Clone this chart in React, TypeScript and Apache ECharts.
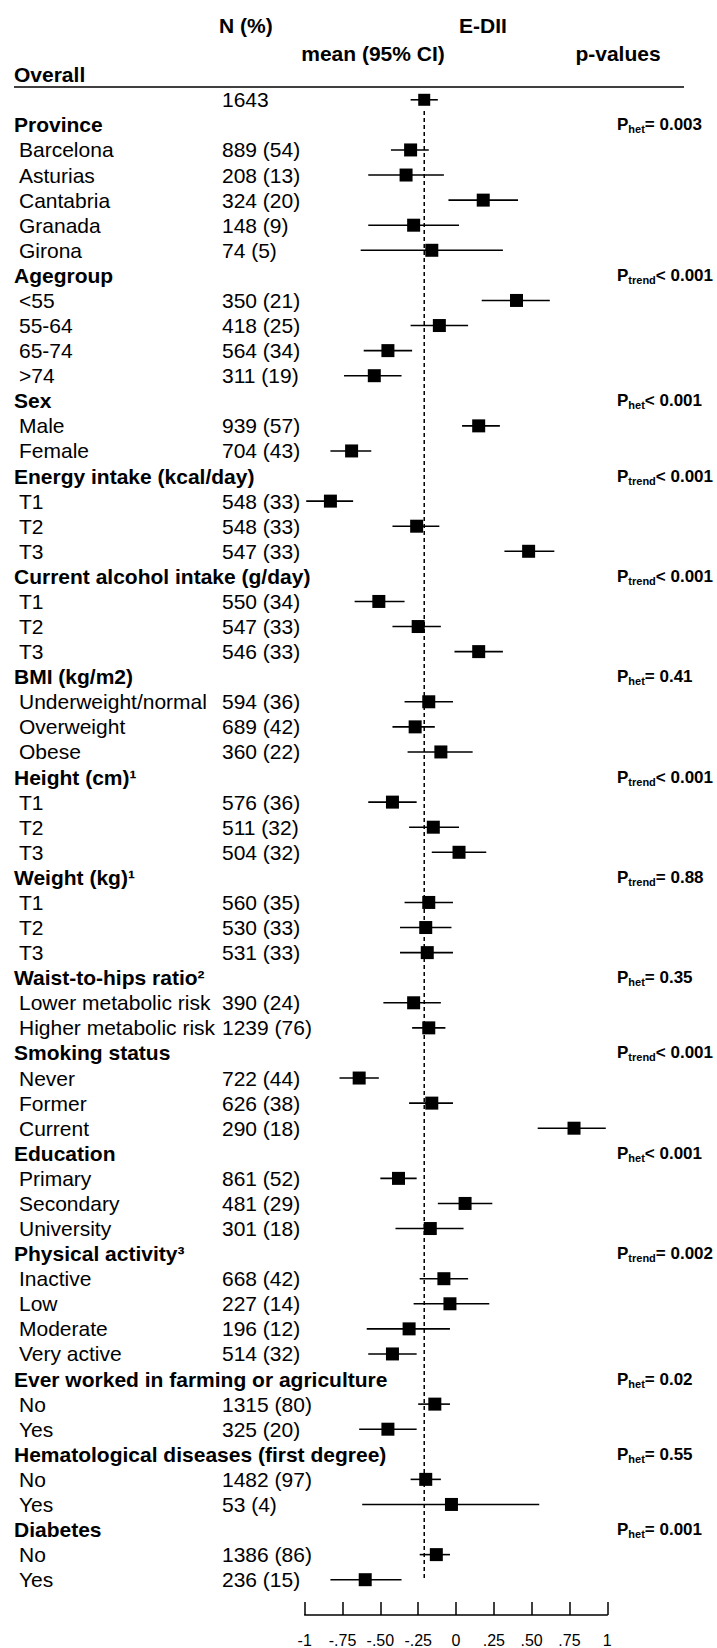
import React, { useEffect, useRef } from "react";
import * as echarts from "echarts";

const rowLabels: string[] = [
  "Overall", "", "Province", "Barcelona", "Asturias", "Cantabria", "Granada", "Girona",
  "Agegroup", "<55", "55-64", "65-74", ">74",
  "Sex", "Male", "Female",
  "Energy intake (kcal/day)", "T1", "T2", "T3",
  "Current alcohol intake (g/day)", "T1", "T2", "T3",
  "BMI (kg/m2)", "Underweight/normal", "Overweight", "Obese",
  "Height (cm)\u00b9", "T1", "T2", "T3",
  "Weight (kg)\u00b9", "T1", "T2", "T3",
  "Waist-to-hips ratio\u00b2", "Lower metabolic risk", "Higher metabolic risk",
  "Smoking status", "Never", "Former", "Current",
  "Education", "Primary", "Secondary", "University",
  "Physical activity\u00b3", "Inactive", "Low", "Moderate", "Very active",
  "Ever worked in farming or agriculture", "No", "Yes",
  "Hematological diseases (first degree)", "No", "Yes",
  "Diabetes", "No", "Yes",
];

const nValues: string[] = [
  "", "1643", "", "889 (54)", "208 (13)", "324 (20)", "148 (9)", "74 (5)",
  "", "350 (21)", "418 (25)", "564 (34)", "311 (19)",
  "", "939 (57)", "704 (43)",
  "", "548 (33)", "548 (33)", "547 (33)",
  "", "550 (34)", "547 (33)", "546 (33)",
  "", "594 (36)", "689 (42)", "360 (22)",
  "", "576 (36)", "511 (32)", "504 (32)",
  "", "560 (35)", "530 (33)", "531 (33)",
  "", "390 (24)", "1239 (76)",
  "", "722 (44)", "626 (38)", "290 (18)",
  "", "861 (52)", "481 (29)", "301 (18)",
  "", "668 (42)", "227 (14)", "196 (12)", "514 (32)",
  "", "1315 (80)", "325 (20)",
  "", "1482 (97)", "53 (4)",
  "", "1386 (86)", "236 (15)",
];

const means: (number | null)[] = [
  null, -0.21, null, -0.30, -0.33, 0.18, -0.28, -0.16,
  null, 0.40, -0.11, -0.45, -0.54,
  null, 0.15, -0.69,
  null, -0.83, -0.26, 0.48,
  null, -0.51, -0.25, 0.15,
  null, -0.18, -0.27, -0.10,
  null, -0.42, -0.15, 0.02,
  null, -0.18, -0.20, -0.19,
  null, -0.28, -0.18,
  null, -0.64, -0.16, 0.78,
  null, -0.38, 0.06, -0.17,
  null, -0.08, -0.04, -0.31, -0.42,
  null, -0.14, -0.45,
  null, -0.20, -0.03,
  null, -0.13, -0.60,
];

const lowerCI: (number | null)[] = [
  null, -0.30, null, -0.43, -0.58, -0.05, -0.58, -0.63,
  null, 0.17, -0.30, -0.61, -0.74,
  null, 0.04, -0.83,
  null, -0.99, -0.42, 0.32,
  null, -0.67, -0.42, -0.01,
  null, -0.34, -0.42, -0.32,
  null, -0.58, -0.31, -0.16,
  null, -0.34, -0.37, -0.37,
  null, -0.48, -0.29,
  null, -0.77, -0.31, 0.54,
  null, -0.50, -0.12, -0.40,
  null, -0.24, -0.28, -0.59, -0.58,
  null, -0.25, -0.64,
  null, -0.30, -0.62,
  null, -0.24, -0.83,
];

const upperCI: (number | null)[] = [
  null, -0.12, null, -0.18, -0.08, 0.41, 0.02, 0.31,
  null, 0.62, 0.08, -0.29, -0.36,
  null, 0.29, -0.56,
  null, -0.68, -0.11, 0.65,
  null, -0.34, -0.10, 0.31,
  null, -0.02, -0.14, 0.11,
  null, -0.26, 0.02, 0.20,
  null, -0.02, -0.03, -0.02,
  null, -0.10, -0.07,
  null, -0.51, -0.02, 0.99,
  null, -0.26, 0.24, 0.05,
  null, 0.08, 0.22, -0.04, -0.26,
  null, -0.04, -0.26,
  null, -0.10, 0.55,
  null, -0.04, -0.36,
];

const pSubs: string[] = [
  "", "", "het", "", "", "", "", "",
  "trend", "", "", "", "",
  "het", "", "",
  "trend", "", "", "",
  "trend", "", "", "",
  "het", "", "", "",
  "trend", "", "", "",
  "trend", "", "", "",
  "het", "", "",
  "trend", "", "", "",
  "het", "", "", "",
  "trend", "", "", "", "",
  "het", "", "",
  "het", "", "",
  "het", "", "",
];

const pValues: string[] = [
  "", "", "= 0.003", "", "", "", "", "",
  "< 0.001", "", "", "", "",
  "< 0.001", "", "",
  "< 0.001", "", "", "",
  "< 0.001", "", "", "",
  "= 0.41", "", "", "",
  "< 0.001", "", "", "",
  "= 0.88", "", "", "",
  "= 0.35", "", "",
  "< 0.001", "", "", "",
  "< 0.001", "", "", "",
  "= 0.002", "", "", "", "",
  "= 0.02", "", "",
  "= 0.55", "", "",
  "= 0.001", "", "",
];

const tickLabels: string[] = ["-1", "-.75", "-.50", "-.25", "0", ".25", ".50", ".75", "1"];
const overallMean = -0.21;

const FONT = "'Liberation Sans', Arial, Helvetica, sans-serif";

export default function App() {
  const ref = useRef<HTMLDivElement>(null);

  useEffect(() => {
    if (!ref.current) return;
    const chart = echarts.init(ref.current, null, { renderer: "svg" });
    const rows = rowLabels.map((_, i) => i);
    const withData = rows.filter((i) => means[i] !== null);
    const ciData = withData.map((i) => [lowerCI[i], upperCI[i], i]);
    const pointData = withData.map((i) => ({
      value: [means[i], i],
      symbolSize: i === 1 ? 12 : 13,
    }));

    const txt = (size: number, bold: boolean) => ({
      fill: "#000",
      fontSize: size,
      fontWeight: bold ? "bold" : "normal",
      fontFamily: FONT,
    });

    chart.setOption({
      animation: false,
      grid: { left: 304.7, right: 109.7, top: 74.7, bottom: 67.3 },
      xAxis: {
        type: "value",
        min: -1,
        max: 1,
        interval: 0.25,
        position: "bottom",
        offset: 35.3,
        axisLine: { show: true, onZero: false, lineStyle: { color: "#000", width: 1.5 } },
        axisTick: { show: true, inside: true, length: 13, lineStyle: { color: "#000", width: 1.5 } },
        axisLabel: {
          color: "#000",
          fontSize: 16,
          fontFamily: FONT,
          margin: 17,
          formatter: (v: number) => tickLabels[Math.round((v + 1) / 0.25)] ?? "",
        },
        splitLine: { show: false },
      },
      yAxis: { type: "value", min: 0, max: 60, inverse: true, show: false },
      series: [
        {
          type: "line",
          data: [
            [overallMean, 1.45],
            [overallMean, 60.1],
          ],
          symbol: "none",
          silent: true,
          lineStyle: { color: "#000", width: 1.5, type: [4, 3] },
        },
        {
          type: "custom",
          clip: false,
          data: ciData,
          encode: { x: [0, 1], y: 2 },
          renderItem: (_params: any, api: any) => {
            const a = api.coord([api.value(0), api.value(2)]);
            const b = api.coord([api.value(1), api.value(2)]);
            return {
              type: "line",
              shape: { x1: a[0], y1: a[1], x2: b[0], y2: b[1] },
              style: { stroke: "#000", lineWidth: 1.6 },
            };
          },
        },
        {
          type: "scatter",
          symbol: "rect",
          data: pointData,
          itemStyle: { color: "#000", opacity: 1 },
        },
        {
          type: "custom",
          clip: false,
          silent: true,
          data: rows.map((i) => [0, i]),
          renderItem: (params: any, api: any) => {
            const i = params.dataIndex;
            const y = api.coord([0, i])[1];
            const bold = nValues[i] === "";
            const children: any[] = [];
            if (rowLabels[i]) {
              children.push({
                type: "text",
                x: bold ? 14 : 19,
                y,
                style: { text: rowLabels[i], align: "left", verticalAlign: "middle", ...txt(21, bold) },
              });
            }
            if (nValues[i]) {
              children.push({
                type: "text",
                x: 222,
                y,
                style: { text: nValues[i], align: "left", verticalAlign: "middle", ...txt(21, false) },
              });
            }
            if (pSubs[i]) {
              children.push({
                type: "text",
                x: 617,
                y,
                style: {
                  text: `{p|P}{s|${pSubs[i]}}{p|${pValues[i]}}`,
                  align: "left",
                  verticalAlign: "middle",
                  fill: "#000",
                  rich: {
                    p: { ...txt(17, true), lineHeight: 20 },
                    s: { ...txt(11, true), lineHeight: 6, verticalAlign: "bottom" },
                  },
                },
              });
            }
            return { type: "group", children };
          },
        },
      ],
      graphic: [
        { type: "text", x: 219, y: 25, style: { text: "N (%)", align: "left", verticalAlign: "middle", ...txt(21, true) } },
        { type: "text", x: 483, y: 25, style: { text: "E-DII", align: "center", verticalAlign: "middle", ...txt(21, true) } },
        { type: "text", x: 373, y: 53, style: { text: "mean (95% CI)", align: "center", verticalAlign: "middle", ...txt(21, true) } },
        { type: "text", x: 618, y: 53, style: { text: "p-values", align: "center", verticalAlign: "middle", ...txt(21, true) } },
        { type: "line", shape: { x1: 14, y1: 87, x2: 684, y2: 87 }, style: { stroke: "#000", lineWidth: 1.5 } },
      ],
    });

    return () => chart.dispose();
  }, []);

  return (
    <div
      ref={ref}
      style={{ position: "absolute", left: 0, top: 0, width: 717, height: 1648 }}
    />
  );
}
